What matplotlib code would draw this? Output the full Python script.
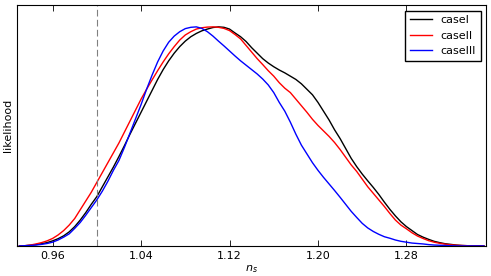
import numpy as np
import matplotlib
matplotlib.use('Agg')
import matplotlib.pyplot as plt

# n_s grid, 0.930 ... 1.350 in steps of 0.005
ns = np.round(np.arange(0.930, 1.3501, 0.005), 3)

# normalised likelihood of each case, one value per grid point
caseI = [0.0, 0.001, 0.003, 0.006, 0.010, 0.015, 0.023, 0.033, 0.046, 0.064,
         0.088, 0.118, 0.152, 0.19, 0.225, 0.27, 0.315, 0.36, 0.408, 0.458,
         0.51, 0.56, 0.61, 0.66, 0.71, 0.76, 0.805, 0.845, 0.88, 0.91,
         0.935, 0.955, 0.97, 0.982, 0.99, 0.997, 1.0, 0.998, 0.99, 0.972,
         0.955, 0.933, 0.905, 0.88, 0.855, 0.835, 0.818, 0.803, 0.79, 0.775,
         0.76, 0.74, 0.715, 0.69, 0.655, 0.615, 0.575, 0.53, 0.49, 0.445,
         0.40, 0.362, 0.328, 0.297, 0.267, 0.235, 0.2, 0.167, 0.137, 0.11,
         0.088, 0.07, 0.052, 0.04, 0.03, 0.021, 0.015, 0.010, 0.007, 0.004,
         0.002, 0.001, 0.0, 0.0, 0.0]
caseII = [0.0, 0.001, 0.004, 0.009, 0.015, 0.023, 0.034, 0.05, 0.07, 0.095,
          0.125, 0.165, 0.205, 0.245, 0.29, 0.335, 0.38, 0.425, 0.47, 0.52,
          0.57, 0.62, 0.67, 0.715, 0.758, 0.80, 0.84, 0.877, 0.91, 0.94,
          0.963, 0.978, 0.99, 0.996, 0.999, 1.0, 0.998, 0.993, 0.983, 0.965,
          0.945, 0.915, 0.885, 0.855, 0.828, 0.80, 0.775, 0.745, 0.72, 0.70,
          0.67, 0.64, 0.61, 0.578, 0.55, 0.525, 0.50, 0.472, 0.44, 0.405,
          0.37, 0.34, 0.305, 0.27, 0.24, 0.21, 0.18, 0.148, 0.118, 0.095,
          0.078, 0.06, 0.045, 0.034, 0.024, 0.017, 0.012, 0.008, 0.005, 0.003,
          0.002, 0.001, 0.0, 0.0, 0.0]
caseIII = [0.0, 0.001, 0.002, 0.004, 0.007, 0.011, 0.017, 0.027, 0.04, 0.055,
           0.08, 0.107, 0.14, 0.175, 0.21, 0.25, 0.295, 0.345, 0.39, 0.45,
           0.515, 0.58, 0.645, 0.715, 0.78, 0.84, 0.89, 0.93, 0.958, 0.978,
           0.992, 0.998, 1.0, 0.993, 0.978, 0.958, 0.935, 0.913, 0.89, 0.867,
           0.845, 0.825, 0.805, 0.785, 0.762, 0.735, 0.70, 0.655, 0.615, 0.565,
           0.51, 0.46, 0.42, 0.38, 0.345, 0.313, 0.283, 0.253, 0.222, 0.19,
           0.158, 0.13, 0.103, 0.082, 0.066, 0.053, 0.042, 0.035, 0.027, 0.021,
           0.017, 0.013, 0.011, 0.009, 0.006, 0.004, 0.003, 0.002, 0.001, 0.0,
           0.0, 0.0, 0.0, 0.0, 0.0]

xticks = [0.96, 1.04, 1.12, 1.20, 1.28]
ns_ref = 1.0

fig = plt.figure(figsize=(4.91, 2.76), dpi=100)
ax = fig.add_axes([0.035, 0.109, 0.955, 0.873])

ax.plot(ns, caseI, color='black', lw=1.0, label='caseI')
ax.plot(ns, caseII, color='red', lw=1.0, label='caseII')
ax.plot(ns, caseIII, color='blue', lw=1.0, label='caseIII')
ax.axvline(ns_ref, color='gray', ls='--', lw=0.8, dashes=(6, 3))

ax.set_xlim(0.928, 1.352)
ax.set_ylim(0, 1.1)
ax.set_xticks(xticks)
ax.set_xticklabels(['%.2f' % t for t in xticks], fontsize=8)
ax.set_yticks([])
ax.tick_params(axis='x', direction='in', top=True, length=4, width=0.6)
ax.set_xlabel('$n_s$', fontsize=8, labelpad=2)
ax.set_ylabel('likelihood', fontsize=8, labelpad=3)
ax.legend(loc='upper right', fontsize=8, fancybox=False, edgecolor='black',
          framealpha=1, handlelength=2.0, borderaxespad=0.5)

fig.savefig('out.png', dpi=100)
